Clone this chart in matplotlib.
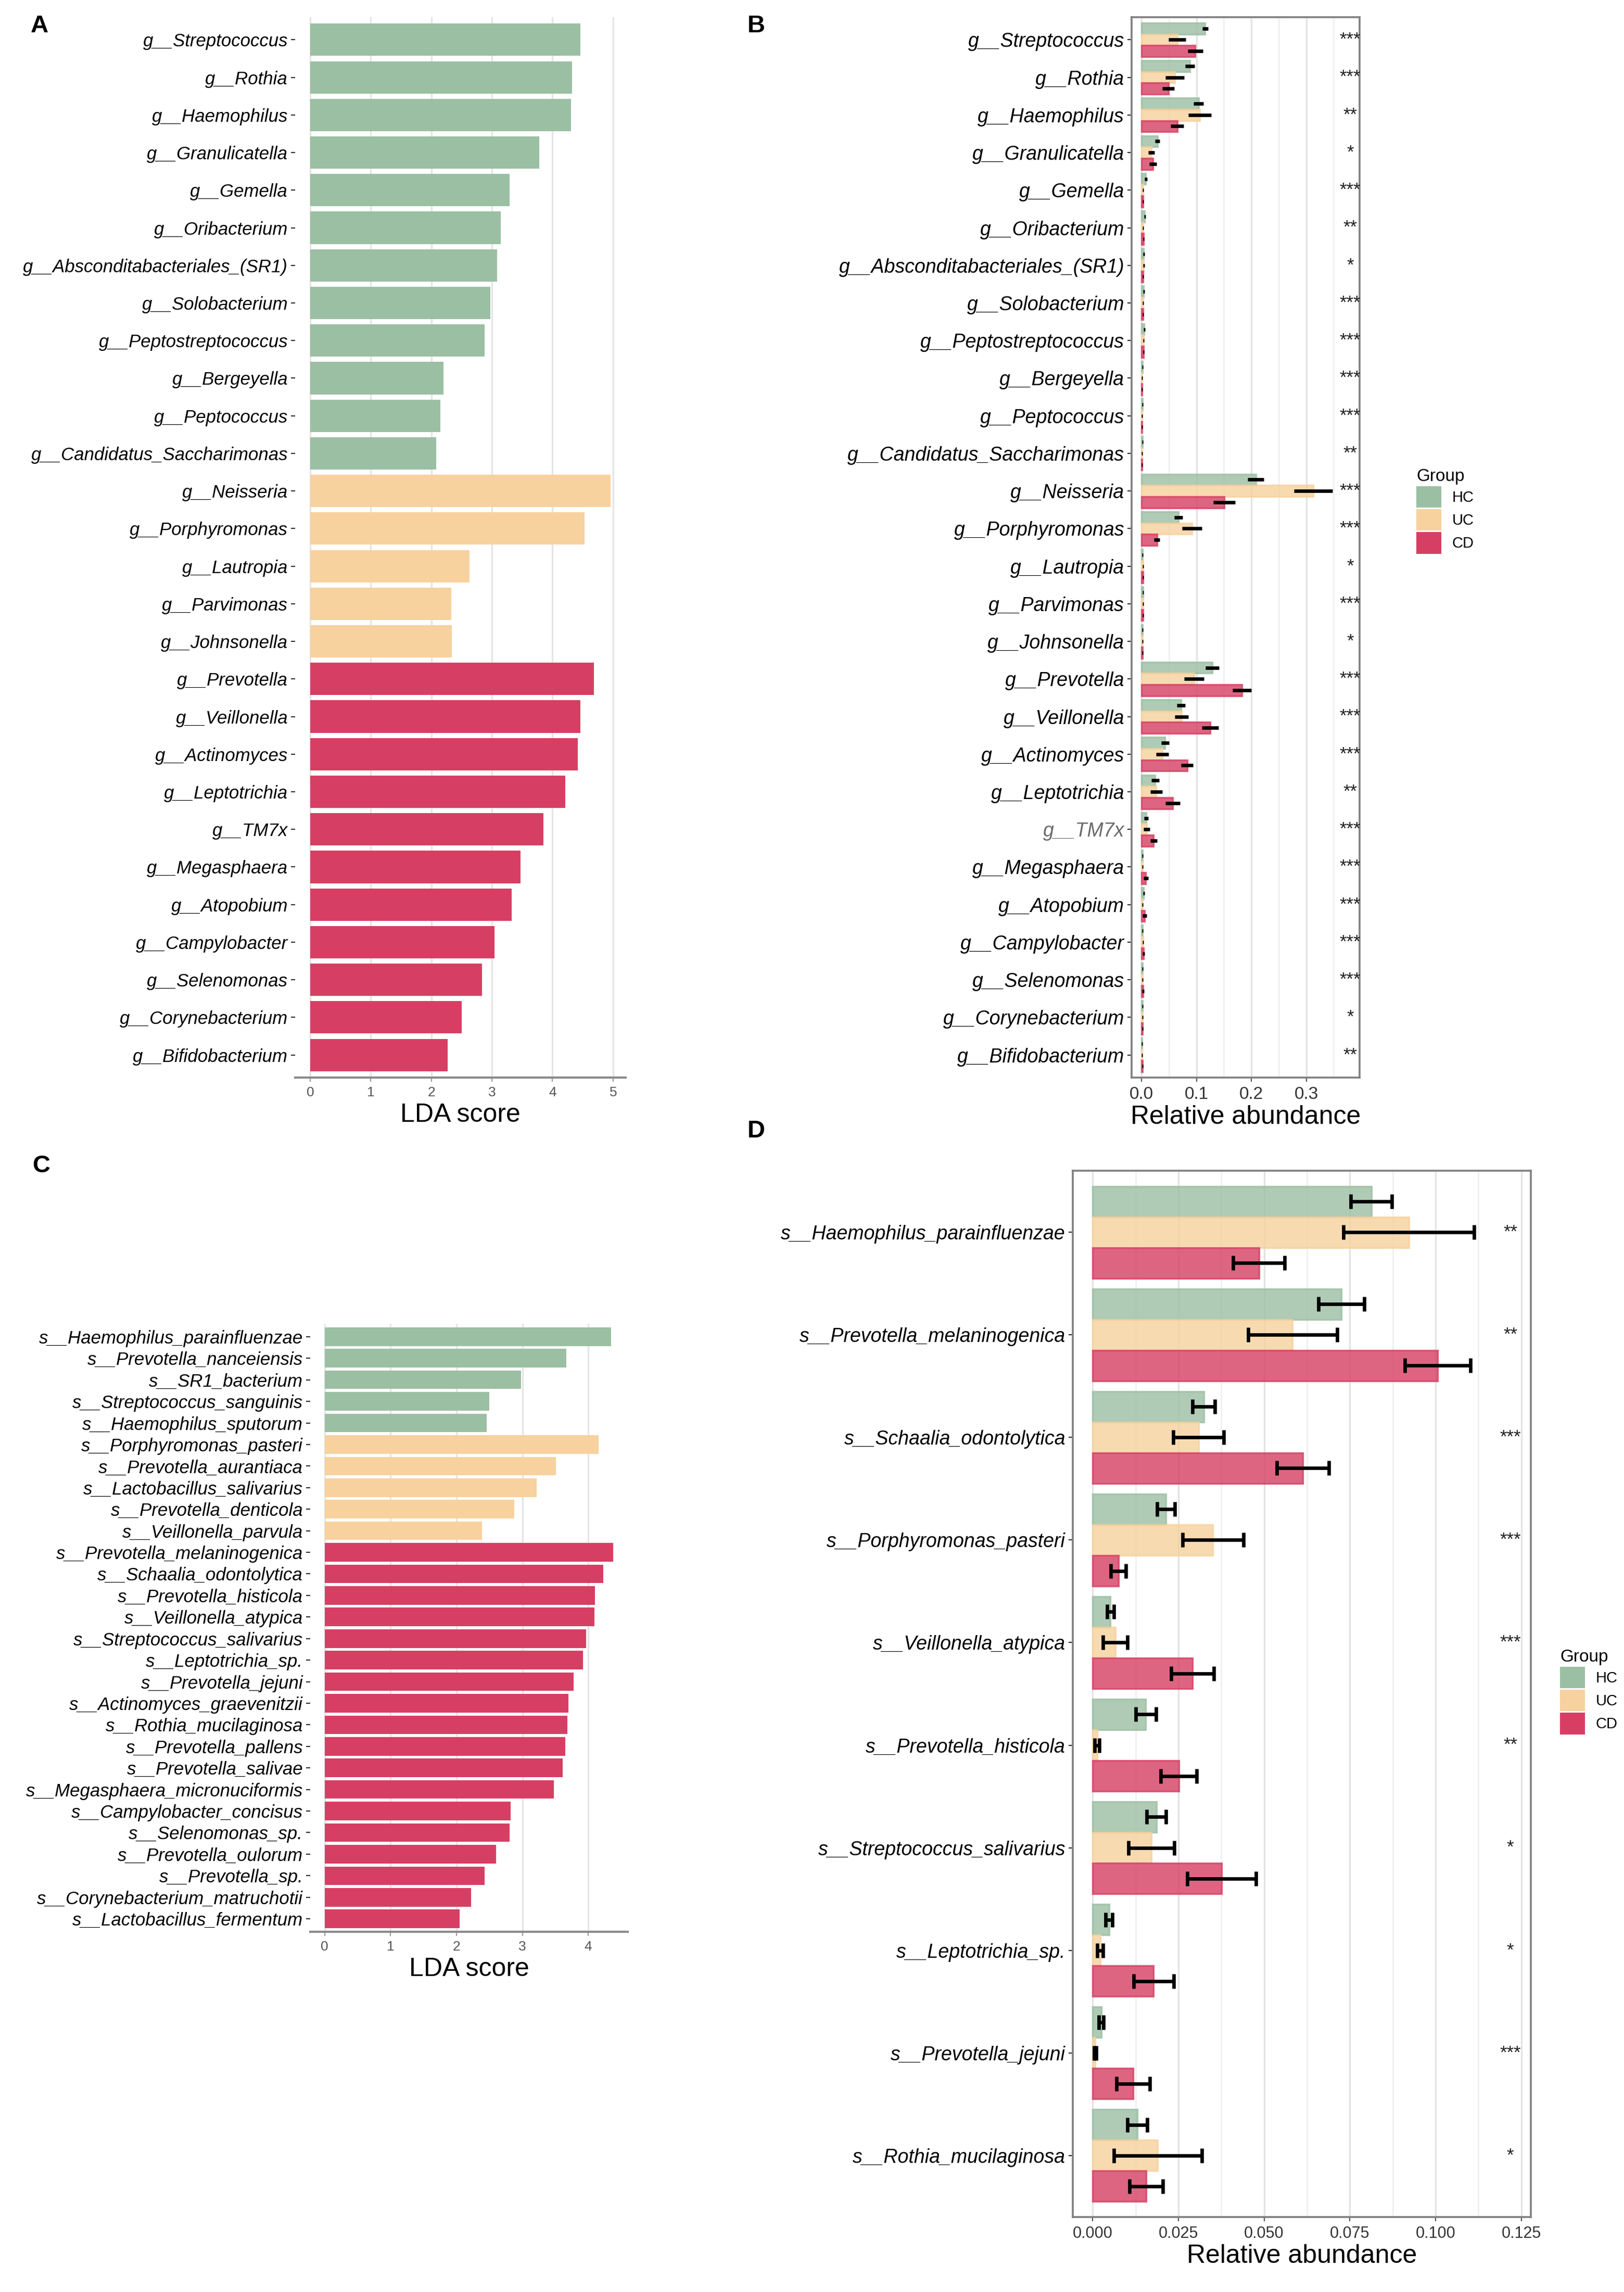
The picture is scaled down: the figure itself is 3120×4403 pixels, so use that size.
import matplotlib
matplotlib.use("Agg")
import matplotlib.pyplot as plt
import numpy as np
from matplotlib.patches import Patch
from matplotlib.ticker import MultipleLocator

plt.rcParams['font.family'] = ['Liberation Sans', 'DejaVu Sans']

# colours for the three groups
group_colors = {'HC': '#9BBFA3', 'UC': '#F7D19E', 'CD': '#D63F63'}

# ---------------- panel A: genus LDA ----------------
a_taxa = ['g__Streptococcus', 'g__Rothia', 'g__Haemophilus', 'g__Granulicatella',
          'g__Gemella', 'g__Oribacterium', 'g__Absconditabacteriales_(SR1)',
          'g__Solobacterium', 'g__Peptostreptococcus', 'g__Bergeyella',
          'g__Peptococcus', 'g__Candidatus_Saccharimonas',
          'g__Neisseria', 'g__Porphyromonas', 'g__Lautropia', 'g__Parvimonas',
          'g__Johnsonella',
          'g__Prevotella', 'g__Veillonella', 'g__Actinomyces', 'g__Leptotrichia',
          'g__TM7x', 'g__Megasphaera', 'g__Atopobium', 'g__Campylobacter',
          'g__Selenomonas', 'g__Corynebacterium', 'g__Bifidobacterium']
a_lda = [4.46, 4.32, 4.31, 3.78, 3.29, 3.15, 3.09, 2.97, 2.88, 2.20, 2.15, 2.08,
         4.96, 4.53, 2.63, 2.33, 2.34,
         4.68, 4.46, 4.42, 4.21, 3.85, 3.47, 3.33, 3.04, 2.84, 2.50, 2.27]
a_group = ['HC'] * 12 + ['UC'] * 5 + ['CD'] * 11

# ---------------- panel B: genus relative abundance ----------------
b_hc = [0.116, 0.088, 0.104, 0.029, 0.008, 0.006, 0.004, 0.004, 0.005, 0.002, 0.002, 0.002,
        0.208, 0.067, 0.002, 0.003, 0.002,
        0.129, 0.072, 0.043, 0.025, 0.0085, 0.002, 0.004, 0.002, 0.002, 0.002, 0.001]
b_hc_err = [0.005, 0.0085, 0.009, 0.0045, 0.002, 0.0015, 0.0015, 0.0015, 0.0015, 0.001, 0.001, 0.001,
            0.015, 0.0077, 0.001, 0.001, 0.001,
            0.012, 0.008, 0.007, 0.007, 0.004, 0.001, 0.0015, 0.001, 0.001, 0.001, 0.001]
b_uc = [0.065, 0.061, 0.106, 0.018, 0.003, 0.003, 0.004, 0.003, 0.004, 0.001, 0.001, 0.001,
        0.313, 0.092, 0.003, 0.003, 0.002,
        0.096, 0.073, 0.038, 0.027, 0.0095, 0.002, 0.002, 0.003, 0.002, 0.002, 0.001]
b_uc_err = [0.016, 0.017, 0.021, 0.0055, 0.001, 0.001, 0.0015, 0.001, 0.001, 0.001, 0.001, 0.001,
            0.035, 0.018, 0.001, 0.001, 0.001,
            0.018, 0.012, 0.011, 0.011, 0.006, 0.001, 0.001, 0.001, 0.001, 0.001, 0.001]
b_cd = [0.098, 0.049, 0.065, 0.021, 0.003, 0.004, 0.003, 0.003, 0.004, 0.001, 0.001, 0.001,
        0.151, 0.028, 0.003, 0.003, 0.002,
        0.183, 0.125, 0.083, 0.057, 0.022, 0.008, 0.0055, 0.004, 0.003, 0.002, 0.002]
b_cd_err = [0.014, 0.011, 0.012, 0.0065, 0.001, 0.001, 0.001, 0.001, 0.001, 0.001, 0.001, 0.001,
            0.02, 0.0055, 0.001, 0.001, 0.001,
            0.017, 0.015, 0.011, 0.013, 0.006, 0.004, 0.004, 0.002, 0.002, 0.001, 0.001]
b_sig = ['***', '***', '**', '*', '***', '**', '*', '***', '***', '***', '***', '**',
         '***', '***', '*', '***', '*',
         '***', '***', '***', '**', '***', '***', '***', '***', '***', '*', '**']

# ---------------- panel C: species LDA ----------------
c_taxa = ['s__Haemophilus_parainfluenzae', 's__Prevotella_nanceiensis', 's__SR1_bacterium',
          's__Streptococcus_sanguinis', 's__Haemophilus_sputorum',
          's__Porphyromonas_pasteri', 's__Prevotella_aurantiaca', 's__Lactobacillus_salivarius',
          's__Prevotella_denticola', 's__Veillonella_parvula',
          's__Prevotella_melaninogenica', 's__Schaalia_odontolytica', 's__Prevotella_histicola',
          's__Veillonella_atypica', 's__Streptococcus_salivarius', 's__Leptotrichia_sp.',
          's__Prevotella_jejuni', 's__Actinomyces_graevenitzii', 's__Rothia_mucilaginosa',
          's__Prevotella_pallens', 's__Prevotella_salivae', 's__Megasphaera_micronuciformis',
          's__Campylobacter_concisus', 's__Selenomonas_sp.', 's__Prevotella_oulorum',
          's__Prevotella_sp.', 's__Corynebacterium_matruchotii', 's__Lactobacillus_fermentum']
c_lda = [4.35, 3.67, 2.98, 2.50, 2.46,
         4.16, 3.51, 3.22, 2.88, 2.39,
         4.38, 4.23, 4.10, 4.09, 3.97, 3.92, 3.78, 3.70, 3.68, 3.65, 3.61, 3.48,
         2.82, 2.81, 2.60, 2.43, 2.22, 2.05]
c_group = ['HC'] * 5 + ['UC'] * 5 + ['CD'] * 18

# ---------------- panel D: species relative abundance ----------------
d_taxa = ['s__Haemophilus_parainfluenzae', 's__Prevotella_melaninogenica',
          's__Schaalia_odontolytica', 's__Porphyromonas_pasteri', 's__Veillonella_atypica',
          's__Prevotella_histicola', 's__Streptococcus_salivarius', 's__Leptotrichia_sp.',
          's__Prevotella_jejuni', 's__Rothia_mucilaginosa']
d_hc = [0.0813, 0.0725, 0.0324, 0.0214, 0.0052, 0.0155, 0.0186, 0.0048, 0.0025, 0.0130]
d_hc_err = [0.0060, 0.0067, 0.0033, 0.0026, 0.0010, 0.0030, 0.0028, 0.0010, 0.0007, 0.0029]
d_uc = [0.0922, 0.0583, 0.0309, 0.0351, 0.0066, 0.0013, 0.0171, 0.0022, 0.0007, 0.0190]
d_uc_err = [0.0190, 0.0130, 0.0074, 0.0089, 0.0036, 0.0007, 0.0067, 0.0008, 0.0003, 0.0128]
d_cd = [0.0485, 0.1006, 0.0613, 0.0075, 0.0291, 0.0251, 0.0376, 0.0178, 0.0118, 0.0156]
d_cd_err = [0.0075, 0.0096, 0.0076, 0.0022, 0.0062, 0.0052, 0.0100, 0.0058, 0.0048, 0.0048]
d_sig = ['**', '**', '***', '***', '***', '**', '*', '*', '***', '*']

W, H = 3120, 4403
fig = plt.figure(figsize=(W / 200, H / 200), dpi=200)


def box(left, top, right, bottom):
    # pixel box -> figure fraction rect
    return [left / W, 1 - bottom / H, (right - left) / W, (bottom - top) / H]


def lda_panel(ax, taxa, lda, groups, xmax, label_size):
    y = np.arange(len(taxa))
    ax.barh(y, lda, height=0.86, color=[group_colors[g] for g in groups], zorder=2)
    ax.set_yticks(y)
    ax.set_yticklabels(taxa, fontsize=label_size, style='italic')
    ax.set_ylim(len(taxa) - 0.4, -0.6)
    ax.set_xlim(-0.05 * xmax, xmax * 1.05)
    ax.xaxis.set_major_locator(MultipleLocator(1))
    ax.grid(axis='x', color='#e5e5e5', lw=1.2, zorder=0)
    for s in ['left', 'top', 'right']:
        ax.spines[s].set_visible(False)
    ax.spines['bottom'].set_color('#8a8a8a')
    ax.spines['bottom'].set_linewidth(1.5)
    ax.tick_params(axis='y', length=3, width=0.8, color='#333333', pad=2)
    ax.tick_params(axis='x', length=3, width=0.8, color='#9a9a9a', labelcolor='#555555',
                   labelsize=9.5, pad=3)
    ax.set_xlabel('LDA score', fontsize=18, labelpad=3)


def abundance_panel(ax, taxa, hc, hc_e, uc, uc_e, cd, cd_e, sig, star_x, xlim,
                    major, label_size, tick_size, capsize, elw):
    y = np.arange(len(taxa))
    h = 0.3
    for off, vals, errs, g in [(-h, hc, hc_e, 'HC'), (0, uc, uc_e, 'UC'), (h, cd, cd_e, 'CD')]:
        ax.barh(y + off, vals, height=h, color=group_colors[g], alpha=0.8,
                edgecolor=group_colors[g], linewidth=1.2, zorder=2)
        ax.errorbar(vals, y + off, xerr=errs, fmt='none', ecolor='black', elinewidth=elw,
                    capsize=capsize, capthick=elw, zorder=3)
    for yi, s in zip(y, sig):
        ax.text(star_x, yi, s, ha='center', va='center', fontsize=12.5, color='#222222')
    ax.set_yticks(y)
    ax.set_yticklabels(taxa, fontsize=label_size, style='italic')
    ax.set_ylim(len(taxa) - 0.4, -0.6)
    ax.set_xlim(*xlim)
    ax.xaxis.set_major_locator(MultipleLocator(major))
    ax.xaxis.set_minor_locator(MultipleLocator(major / 2))
    ax.grid(axis='x', which='major', color='#e3e3e3', lw=1.2, zorder=0)
    ax.grid(axis='x', which='minor', color='#f0f0f0', lw=1.0, zorder=0)
    for s in ax.spines.values():
        s.set_color('#7f7f7f')
        s.set_linewidth(1.3)
    ax.tick_params(axis='y', length=3, width=0.8, color='#333333', pad=2)
    ax.tick_params(axis='x', length=3, width=0.8, color='#555555', labelcolor='#333333',
                   labelsize=tick_size, pad=3)
    ax.tick_params(axis='x', which='minor', length=0)
    ax.set_xlabel('Relative abundance', fontsize=18, labelpad=2)


def group_legend(x, y):
    handles = [Patch(facecolor=group_colors[g], edgecolor='none', label=g) for g in ['HC', 'UC', 'CD']]
    leg = fig.legend(handles=handles, title='Group', loc='upper left', bbox_to_anchor=(x, y),
                     frameon=False, fontsize=10.5, title_fontsize=12, handlelength=1.65,
                     handleheight=1.8, labelspacing=0.1, handletextpad=0.7,
                     borderpad=0, borderaxespad=0)
    leg._legend_box.align = 'left'


# panel A
axA = fig.add_axes(box(567, 33, 1202, 2070))
lda_panel(axA, a_taxa, a_lda, a_group, max(a_lda), 12.5)

# panel B
axB = fig.add_axes(box(2174, 33, 2612, 2070))
abundance_panel(axB, a_taxa, b_hc, b_hc_err, b_uc, b_uc_err, b_cd, b_cd_err, b_sig,
                0.38, (-0.018, 0.397), 0.1, 13.5, 12, 0, 2.4)
axB.get_yticklabels()[a_taxa.index('g__TM7x')].set_color('#6b6b6b')
group_legend(2721 / W, 1 - 900 / H)

# panel C
axC = fig.add_axes(box(596, 2543, 1206, 3711))
lda_panel(axC, c_taxa, c_lda, c_group, max(c_lda), 12.5)

# panel D
axD = fig.add_axes(box(2061, 2249, 2941, 4259))
abundance_panel(axD, d_taxa, d_hc, d_hc_err, d_uc, d_uc_err, d_cd, d_cd_err, d_sig,
                0.1218, (-0.0058, 0.1278), 0.025, 13.5, 11, 5, 2.4)
axD.xaxis.set_major_formatter(matplotlib.ticker.FormatStrFormatter('%.3f'))
group_legend(2997 / W, 1 - 3168 / H)

# panel letters
for letter, px, py in [('A', 76, 50), ('B', 1453, 50), ('C', 79, 2240), ('D', 1453, 2173)]:
    fig.text(px / W, 1 - py / H, letter, fontsize=17, fontweight='bold', ha='center', va='center')

fig.savefig('out.png', dpi=200)
